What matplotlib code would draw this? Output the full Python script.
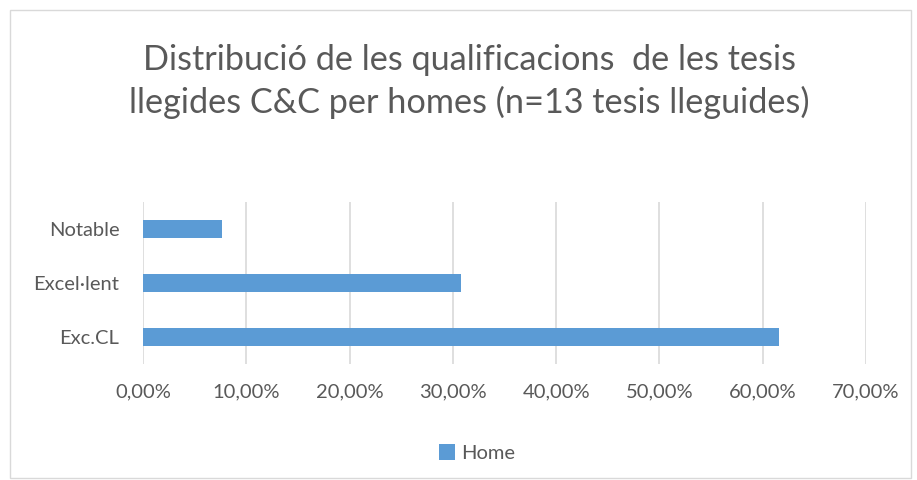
import matplotlib.pyplot as plt
from matplotlib.patches import Rectangle
from matplotlib.ticker import FuncFormatter
import numpy as np

# data (fraction of 13 theses)
categories = ['Exc.CL', 'Excel·lent', 'Notable']
home_values = [61.54, 30.77, 7.69]
x_ticks = [0, 10, 20, 30, 40, 50, 60, 70]

title = 'Distribució de les qualificacions  de les tesis\nllegides C&C per homes (n=13 tesis lleguides)'
bar_color = '#5b9bd5'
text_color = '#595959'
grid_color = '#d9d9d9'

plt.rcParams['font.family'] = ['Lato', 'DejaVu Sans']

fig = plt.figure(figsize=(9.17, 4.8), dpi=100)
ax = fig.add_axes([0.156, 0.2417, 0.7884, 0.3375])

# chart border
fig.patches.append(Rectangle((10 / 917, 2 / 480), 901 / 917, 468 / 480,
                             transform=fig.transFigure, fill=False,
                             edgecolor='#d9d9d9', linewidth=1))

y = np.arange(len(categories))
ax.barh(y, home_values, height=0.34, color=bar_color, label='Home', zorder=3)

ax.set_xlim(0, 70)
ax.set_ylim(-0.5, len(categories) - 0.5)
ax.set_xticks(x_ticks)
ax.xaxis.set_major_formatter(FuncFormatter(lambda v, p: f'{v:.2f}%'.replace('.', ',')))
ax.set_yticks(y)
ax.set_yticklabels(categories)
ax.tick_params(axis='both', length=0, labelsize=14.5, colors=text_color)
ax.tick_params(axis='x', pad=14)
ax.tick_params(axis='y', pad=17)
ax.grid(axis='x', color=grid_color, linewidth=1.2, zorder=0)
for s in ax.spines.values():
    s.set_visible(False)

fig.text(0.512, 0.83, title, ha='center', va='center', fontsize=24.7,
         color=text_color, linespacing=1.37)

fig.legend(loc='center', bbox_to_anchor=(0.52, 0.056), frameon=False,
           fontsize=14.5, handlelength=0.8, handleheight=0.8, handletextpad=0.3,
           labelcolor=text_color)

fig.savefig('out.png', dpi=100)
